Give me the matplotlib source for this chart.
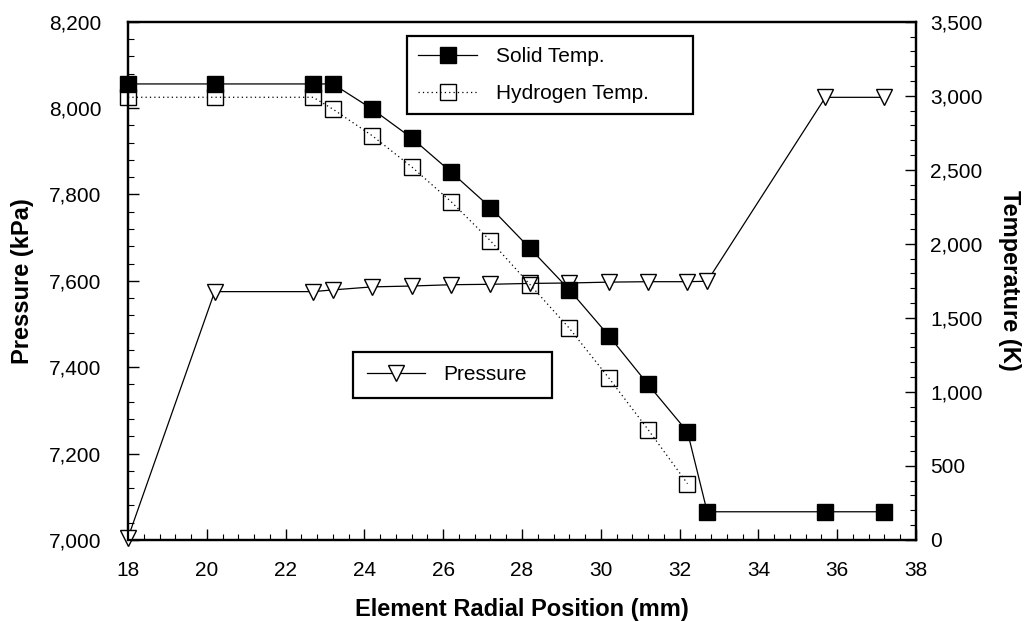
import matplotlib.pyplot as plt
from matplotlib.ticker import MultipleLocator, FuncFormatter

plt.rcParams['font.family'] = ['Liberation Sans', 'DejaVu Sans']

# 元件径向位置 (mm)
position = [18.0, 20.2, 22.7, 23.2, 24.2, 25.2, 26.2, 27.2, 28.2, 29.2,
            30.2, 31.2, 32.2, 32.7, 35.7, 37.2]
# 固体温度 (K)
solid_temp = [3080, 3080, 3080, 3080, 2910, 2715, 2485, 2245, 1970, 1690,
              1380, 1050, 730, 190, 190, 190]
# 氢气温度 (K)，只到 32.2 mm
hydrogen_pos = position[:13]
hydrogen_temp = [2990, 2990, 2990, 2910, 2730, 2520, 2285, 2020, 1725, 1430,
                 1095, 745, 380]
# 压力 (kPa)
pressure = [7005, 7575, 7575, 7579, 7586, 7588, 7591, 7592, 7594, 7595,
            7597, 7598, 7598, 7599, 8025, 8025]

fig = plt.figure(figsize=(10.29, 6.22), dpi=100)
ax = fig.add_axes([0.1244, 0.132, 0.7658, 0.833])
ax2 = ax.twinx()

# 压力（左轴）
p_line, = ax.plot(position, pressure, color='black', linewidth=0.9,
                  marker='v', markersize=11, markerfacecolor='white',
                  markeredgecolor='black', markeredgewidth=1.0,
                  label='Pressure', zorder=3, clip_on=False)

# 温度（右轴）
s_line, = ax2.plot(position, solid_temp, color='black', linewidth=0.9,
                   marker='s', markersize=11, markerfacecolor='black',
                   markeredgecolor='black', label='Solid Temp.',
                   clip_on=False)
h_line, = ax2.plot(hydrogen_pos, hydrogen_temp, color='black', linewidth=0.9,
                   linestyle=(0, (1, 2.5)), marker='s', markersize=11,
                   markerfacecolor='none', markeredgecolor='black',
                   markeredgewidth=1.0, label='Hydrogen Temp.',
                   clip_on=False)

ax.set_xlim(18, 38)
ax.set_ylim(7000, 8200)
ax2.set_ylim(0, 3500)

comma = FuncFormatter(lambda v, _: f'{v:,.0f}')
ax.xaxis.set_major_locator(MultipleLocator(2))
ax.xaxis.set_minor_locator(MultipleLocator(0.4))
ax.yaxis.set_major_locator(MultipleLocator(200))
ax.yaxis.set_minor_locator(MultipleLocator(40))
ax.yaxis.set_major_formatter(comma)
ax2.yaxis.set_major_locator(MultipleLocator(500))
ax2.yaxis.set_minor_locator(MultipleLocator(100))
ax2.yaxis.set_major_formatter(comma)

for a in (ax, ax2):
    a.tick_params(which='major', direction='in', length=8, width=1.0,
                  labelsize=15)
    a.tick_params(which='minor', direction='in', length=4, width=0.8)
    for sp in a.spines.values():
        sp.set_linewidth(1.6)
ax.tick_params(axis='x', which='both', top=False, pad=15)
ax.tick_params(axis='y', which='both', right=False, pad=19)
ax2.tick_params(axis='y', which='both', pad=10)

ax.set_xlabel('Element Radial Position (mm)', fontsize=17, fontweight='bold')
ax.xaxis.set_label_coords(0.5, -0.112)
ax.set_ylabel('Pressure (kPa)', fontsize=17, fontweight='bold')
ax.yaxis.set_label_coords(-0.119, 0.5)
ax2.set_ylabel('Temperature (K)', fontsize=17, fontweight='bold',
               rotation=270, va='bottom')
ax2.yaxis.set_label_coords(1.104, 0.5)

leg_kw = dict(mode='expand', loc='upper left', fontsize=15, numpoints=1,
              handlelength=2.8, handletextpad=0.9, borderaxespad=0,
              fancybox=False, framealpha=1, edgecolor='black')
leg1 = ax2.legend(handles=[s_line, h_line],
                  bbox_to_anchor=(0.354, 0.824, 0.363, 0.149),
                  labelspacing=0.85, borderpad=0.55, **leg_kw)
leg1.get_frame().set_linewidth(1.6)
leg2 = ax2.legend(handles=[p_line],
                  bbox_to_anchor=(0.2855, 0.272, 0.2525, 0.091),
                  borderpad=0.65, **leg_kw)
leg2.get_frame().set_linewidth(1.6)
ax2.add_artist(leg1)

fig.savefig('out.png', dpi=100)
